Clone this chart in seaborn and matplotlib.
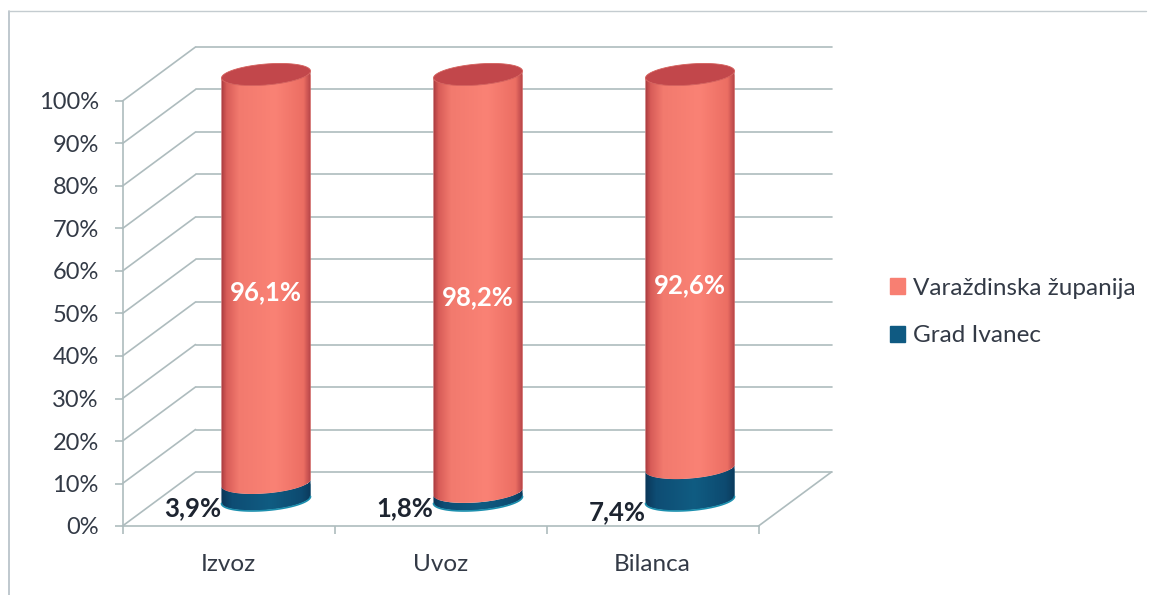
import matplotlib
matplotlib.use("Agg")
import matplotlib.pyplot as plt
import seaborn as sns
import numpy as np
from matplotlib.colors import LinearSegmentedColormap
from matplotlib.lines import Line2D
from matplotlib.patches import Patch, Polygon

categories = ["Izvoz", "Uvoz", "Bilanca"]
ivanec = [3.9, 1.8, 7.4]
zupanija = [96.1, 98.2, 92.6]
y_ticks = [0, 10, 20, 30, 40, 50, 60, 70, 80, 90, 100]
series_names = ["Varaždinska županija", "Grad Ivanec"]

W, H = 1153, 595
RED, BLUE = "#f87f72", "#0f5a82"
GRID = "#aebcbe"
TEXT = "#333a46"

sns.set_theme(style="white")
plt.rcParams["font.family"] = ["Lato", "DejaVu Sans"]

fig = plt.figure(figsize=(W / 100, H / 100), dpi=100)
ax = fig.add_axes([122.5 / W, 1 - 526 / H, 636 / W, 425 / H])

sns.barplot(x=categories, y=ivanec, color=BLUE, width=0.42, saturation=1, ax=ax)
sns.barplot(x=categories, y=zupanija, bottom=ivanec, color=RED, width=0.42, saturation=1, ax=ax)

ax.set_xlim(-0.5, 2.5)
ax.set_ylim(0, 100)

px_x = 636 / 3
px_y = 4.25
# depth of the fake 3d box, in data units
back_x = 73 / px_x
back_y = 54 / px_y
mid_x = 37.5 / px_x
mid_y = 26.5 / px_y
ell_b = 10.5 / px_y
ell_tilt = 3.5 / px_y

# walls and floor
for t in y_ticks:
    ax.plot([-0.5, -0.5 + back_x], [t, t + back_y], color=GRID, lw=1.2, clip_on=False, zorder=1)
    ax.plot([-0.5 + back_x, 2.5 + back_x], [t + back_y, t + back_y], color=GRID, lw=1.2, clip_on=False, zorder=1)
ax.plot([2.5, 2.5 + back_x], [0, back_y], color=GRID, lw=1.2, clip_on=False, zorder=1)

red_cmap = LinearSegmentedColormap.from_list("r", [(0, "#a83a3e"), (0.06, "#d85c58"), (0.2, "#f27a6e"),
                                                   (0.6, "#fa8275"), (0.92, "#ec6e63"), (1, "#b54448")])
blue_cmap = LinearSegmentedColormap.from_list("b", [(0, "#0b3658"), (0.12, "#0e4d74"), (0.55, "#105c82"),
                                                    (0.9, "#0d4a70"), (1, "#0b3a5c")])
grad = np.linspace(0, 1, 200).reshape(1, -1)


def arc(cx, cy, a, t0, t1):
    t = np.linspace(t0, t1, 80)
    return np.column_stack([cx + a * np.cos(t), cy + ell_b * np.sin(t) + ell_tilt * np.cos(t)])


bars = list(ax.patches)
for i, bar in enumerate(bars):
    cmap = blue_cmap if i < 3 else red_cmap
    x0, w = bar.get_x() + mid_x, bar.get_width()
    y0, h = bar.get_y() + mid_y, bar.get_height()
    cx = x0 + w / 2
    low = arc(cx, y0, w / 2, np.pi, 2 * np.pi)
    up = arc(cx, y0 + h, w / 2, 2 * np.pi, np.pi)
    z = 3 + i
    bar.set_x(x0)
    bar.set_y(y0)
    bar.set_zorder(z)
    outline = Polygon(np.vstack([low, up]), transform=ax.transData)
    bar.set_clip_path(outline)
    bar.set_clip_box(fig.bbox)
    im = ax.imshow(grad, cmap=cmap, aspect="auto", extent=[x0, x0 + w, y0 - 4, y0 + h + 4], zorder=z + 0.5)
    im.set_clip_path(outline)
    im.set_clip_box(fig.bbox)
    if i < 3:
        # thin light rim under the blue part
        ax.plot(low[:, 0], low[:, 1] - 0.1, color="#1c8fae", lw=1.2, clip_on=False, zorder=z + 0.6)
    else:
        top = arc(cx, y0 + h, w / 2, 0, 2 * np.pi)
        ax.add_patch(Polygon(top, facecolor="#c2474b", edgecolor="#d4605c", lw=0.6, clip_on=False, zorder=12))

ax.set_xlim(-0.5, 2.5)
ax.set_ylim(0, 100)

# value labels
for i in range(3):
    cx = i + mid_x
    mid = ivanec[i] + zupanija[i] / 2
    ax.text(cx, mid + mid_y - 3.2, f"{zupanija[i]:.1f}%".replace(".", ","), color="white",
            fontsize=18.5, fontweight="bold", ha="center", va="center", zorder=20)
    ax.text(cx - 73 / px_x, 3.3 if i == 2 else 4.2, f"{ivanec[i]:.1f}%".replace(".", ","), color="#1d2430",
            fontsize=18.5, fontweight="bold", ha="center", va="center", zorder=20, clip_on=False)

# axes
sns.despine(ax=ax, top=True, right=True)
ax.spines["left"].set_color(GRID)
ax.spines["bottom"].set_color(GRID)
ax.spines["left"].set_linewidth(1.2)
ax.spines["bottom"].set_linewidth(1.2)
ax.patch.set_alpha(0)
ax.set_yticks(y_ticks)
ax.set_yticklabels([f"{t}%" for t in y_ticks])
ax.set_xticks(range(3))
ax.set_xticklabels(categories)
ax.set_xticks([-0.5, 0.5, 1.5, 2.5], minor=True)
ax.tick_params(axis="y", left=True, length=6, width=1.2, color=GRID, pad=11, labelsize=17, labelcolor=TEXT)
ax.tick_params(axis="x", which="major", bottom=False, pad=14, labelsize=17.5, labelcolor=TEXT)
ax.tick_params(axis="x", which="minor", bottom=True, length=6, width=1.2, color=GRID)

handles = [Patch(color=RED), Patch(color=BLUE)]
fig.legend(handles, series_names, loc="center left", bbox_to_anchor=(890 / W, 1 - 312 / H), frameon=False,
           fontsize=17.5, labelcolor=TEXT, handlelength=0.6, handleheight=0.62, handletextpad=0.36,
           labelspacing=1.1, borderpad=0, borderaxespad=0)

# frame of the pasted chart
fig.add_artist(Line2D([9 / W, 9 / W], [0, 1 - 11 / H], color="#b4bfc6", lw=1.2))
fig.add_artist(Line2D([9 / W, 1146 / W], [1 - 11 / H, 1 - 11 / H], color="#c4ccd0", lw=1.0))

fig.savefig("out.png", dpi=100)
